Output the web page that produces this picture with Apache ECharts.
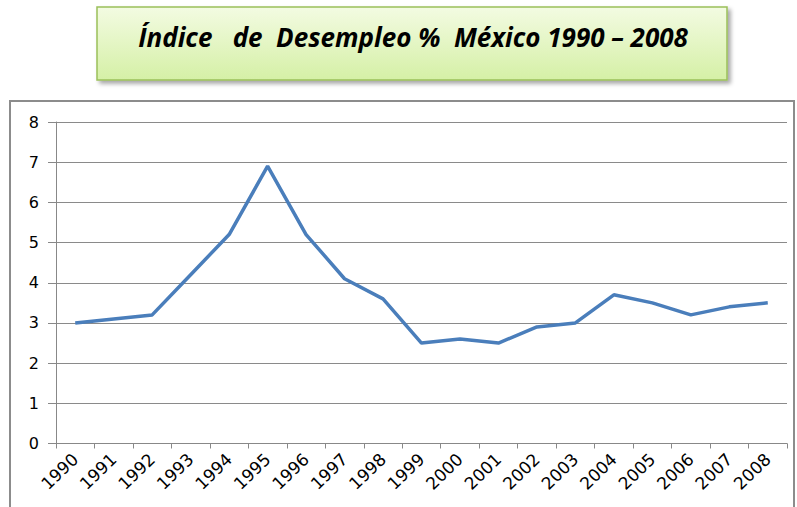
<!DOCTYPE html>
<html>
<head>
<meta charset="utf-8">
<script src="https://cdn.jsdelivr.net/npm/echarts@6/dist/echarts.min.js"></script>
<style>
  html, body { margin: 0; padding: 0; background: #fff; }
  #chart { width: 797px; height: 507px; }
</style>
</head>
<body>
<div id="chart"></div>
<script>
  // datos
  const years = ['1990', '1991', '1992', '1993', '1994', '1995', '1996', '1997', '1998', '1999',
    '2000', '2001', '2002', '2003', '2004', '2005', '2006', '2007', '2008'];
  const desempleo = [3.0, 3.1, 3.2, 4.2, 5.2, 6.9, 5.2, 4.1, 3.6, 2.5,
    2.6, 2.5, 2.9, 3.0, 3.7, 3.5, 3.2, 3.4, 3.5];
  const yTicks = [0, 1, 2, 3, 4, 5, 6, 7, 8];
  const titulo = 'Índice   de  Desempleo %  México 1990 – 2008';

  const chart = echarts.init(document.getElementById('chart'), null, { renderer: 'svg' });

  const option = {
    animation: false,
    graphic: [
      // marco del gráfico
      {
        type: 'rect',
        shape: { x: 10, y: 101, width: 784, height: 420 },
        style: { fill: 'none', stroke: '#8c8c8c', lineWidth: 2 },
        z: -1
      },
      // caja del título
      {
        type: 'rect',
        shape: { x: 97, y: 7, width: 630, height: 73 },
        style: {
          fill: new echarts.graphic.LinearGradient(0, 0, 0, 1, [
            { offset: 0, color: '#f3fbe2' },
            { offset: 1, color: '#d5f0a6' }
          ]),
          stroke: '#9bc05a',
          lineWidth: 1.5,
          shadowBlur: 4,
          shadowOffsetX: 3,
          shadowOffsetY: 3,
          shadowColor: 'rgba(0,0,0,0.35)'
        }
      },
      {
        type: 'text',
        x: 413,
        y: 37,
        style: {
          text: titulo,
          font: 'italic bold 26px "Open Sans", sans-serif',
          fill: '#000',
          align: 'center',
          verticalAlign: 'middle'
        }
      }
    ],
    grid: { left: 56, right: 10, top: 122, bottom: 63.5 },
    xAxis: {
      type: 'category',
      data: years,
      boundaryGap: true,
      axisLine: { lineStyle: { color: '#888', width: 1 } },
      axisTick: { show: true, length: 5, lineStyle: { color: '#888' } },
      axisLabel: {
        rotate: 44,
        color: '#000',
        fontSize: 17,
        fontFamily: 'DejaVu Sans',
        margin: 13,
        interval: 0
      }
    },
    yAxis: {
      type: 'value',
      min: yTicks[0],
      max: yTicks[yTicks.length - 1],
      interval: 1,
      axisLine: { show: true, lineStyle: { color: '#888', width: 1 } },
      axisTick: { show: true, length: 8, lineStyle: { color: '#888' } },
      axisLabel: { color: '#000', fontSize: 16, fontFamily: 'DejaVu Sans', margin: 17 },
      splitLine: { lineStyle: { color: '#8a8a8a', width: 1 } }
    },
    series: [
      {
        type: 'line',
        data: desempleo,
        symbol: 'none',
        lineStyle: { color: '#4a7ebb', width: 3.5 },
        itemStyle: { color: '#4a7ebb' }
      }
    ]
  };

  chart.setOption(option);
</script>
</body>
</html>
